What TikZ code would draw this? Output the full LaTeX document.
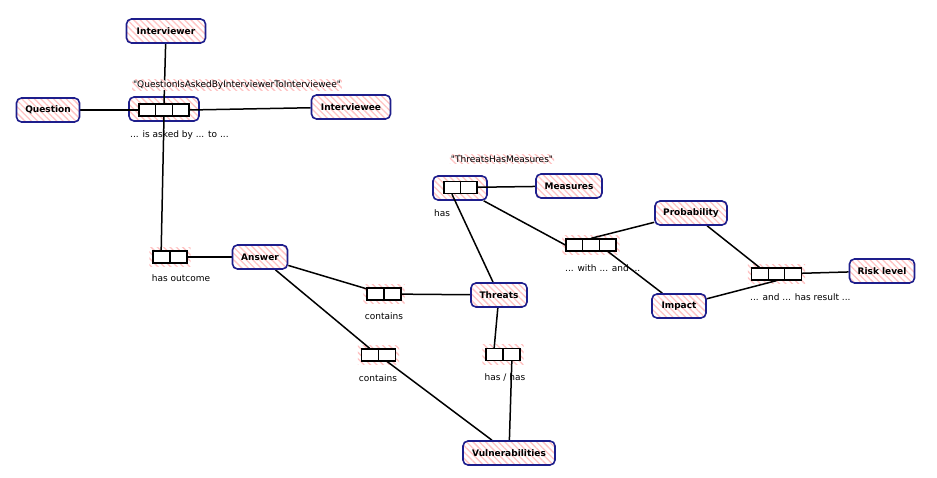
\documentclass[tikz,border=0pt]{standalone}
\usepackage{fontspec}
\setmainfont{DejaVu Sans}[Ligatures=TeXOff]
\usetikzlibrary{patterns.meta,calc,fit}
\definecolor{navyb}{RGB}{30,30,140}
\definecolor{hatchc}{RGB}{255,195,195}
\pgfdeclarelayer{bg}
\pgfdeclarelayer{edges}
\pgfsetlayers{bg,edges,main}
\tikzset{
  hatch/.style={preaction={fill=white}, pattern={Lines[angle=-45,distance=4.5pt,line width=1.3pt]}, pattern color=hatchc},
  ent/.style={hatch, draw=navyb, line width=1.6pt, rounded corners=5pt, font=\fontsize{9}{10}\selectfont\bfseries, minimum height=24pt, inner sep=2pt},
  relbox/.style={hatch, draw=navyb, line width=1.6pt, rounded corners=5pt, minimum height=24pt, inner sep=0pt},
  celltwo/.style={draw, line width=1.3pt, fill=white, minimum width=34pt, minimum height=12pt, inner sep=0pt,
    path picture={\draw[line width=1.3pt] (path picture bounding box.north)--(path picture bounding box.south);}},
  cellthree/.style={draw, line width=1.3pt, fill=white, minimum width=50pt, minimum height=12pt, inner sep=0pt,
    path picture={\draw[line width=1.3pt]
      ($(path picture bounding box.north west)!1/3!(path picture bounding box.north east)$) --
      ($(path picture bounding box.south west)!1/3!(path picture bounding box.south east)$)
      ($(path picture bounding box.north west)!2/3!(path picture bounding box.north east)$) --
      ($(path picture bounding box.south west)!2/3!(path picture bounding box.south east)$);}},
  cellbg/.style={hatch, draw=none, inner sep=3pt},
  lbl/.style={font=\fontsize{9}{10}\selectfont, inner sep=1pt},
  conn/.style={line width=1.5pt},
}
\begin{document}
\begin{tikzpicture}[x=1pt,y=-1pt]
\useasboundingbox (0,0) rectangle (937,478);
% entities
\node[ent, minimum width=79pt] (iv) at (166,31) {Interviewer};
\node[ent, minimum width=63pt] (q) at (48,110) {Question};
\node[ent, minimum width=79pt] (ie) at (351,107) {Interviewee};
\node[ent, minimum width=55pt] (ans) at (260,257) {Answer};
\node[ent, minimum width=56pt] (th) at (499,295) {Threats};
\node[ent, minimum width=66pt] (ms) at (569,186) {Measures};
\node[ent, minimum width=72pt] (pr) at (691,213) {Probability};
\node[ent, minimum width=54pt] (im) at (679,306) {Impact};
\node[ent, minimum width=65pt] (rl) at (882,271) {Risk level};
\node[ent, minimum width=92pt] (vul) at (509,453) {Vulnerabilities};
% relation cells
\node[cellthree] (r1) at (164,110) {};
\node[celltwo] (ho) at (170,257) {};
\node[celltwo] (c1) at (384,294) {};
\node[celltwo] (c2) at (378.5,355) {};
\node[celltwo] (hh) at (503,354.5) {};
\node[celltwo, minimum width=33pt] (tm) at (460.5,187.5) {};
\node[cellthree] (wa) at (591,245) {};
\node[cellthree] (ar) at (776.5,274) {};
% backgrounds of relations
\begin{pgfonlayer}{bg}
\node[relbox, minimum width=70pt] (r1o) at (164,109) {};
\node[relbox, minimum width=54pt] (tmo) at (460,188) {};
\node[cellbg, fit=(ho)] (hob) {};
\node[cellbg, fit=(c1)] (c1b) {};
\node[cellbg, fit=(c2)] (c2b) {};
\node[cellbg, fit=(hh)] (hhb) {};
\node[cellbg, fit=(wa)] (wab) {};
\node[cellbg, fit=(ar)] (arb) {};
\end{pgfonlayer}
% labels
\node[lbl, hatch] (l1) at (237,85) {"QuestionIsAskedByInterviewerToInterviewee"};
\node[lbl, anchor=west] (l2) at (129,135) {... is asked by ... to ...};
\node[lbl] (l3) at (181,278) {has outcome};
\node[lbl] (l4) at (384,316) {contains};
\node[lbl] (l5) at (378,378) {contains};
\node[lbl, hatch] (l6) at (502,159) {"ThreatsHasMeasures"};
\node[lbl] (l7) at (442,213) {has};
\node[lbl] (l8) at (505,377) {has / has};
\node[lbl, anchor=west] (l9) at (564,268) {... with ... and ...};
\node[lbl, anchor=west] (l10) at (749,297) {... and ... has result ...};
% connectors
\begin{pgfonlayer}{edges}
\draw[conn] (iv) -- (r1.north);
\draw[conn] (q) -- (r1.west);
\draw[conn] (r1.east) -- (ie);
\draw[conn] (r1.south) -- ($(ho.north west)!0.25!(ho.north east)$);
\draw[conn] (ho) -- (ans);
\draw[conn] (ans) -- (c1);
\draw[conn] (c1) -- (th);
\draw[conn] (ans) -- ($(c2.north west)!0.25!(c2.north east)$);
\draw[conn] ($(c2.south west)!0.75!(c2.south east)$) -- (vul);
\draw[conn] (th) -- ($(hh.north west)!0.25!(hh.north east)$);
\draw[conn] ($(hh.south west)!0.75!(hh.south east)$) -- (vul);
\draw[conn] (tm) -- (ms);
\draw[conn] ($(tm.south west)!0.25!(tm.south east)$) -- (th);
\draw[conn] (tmo) -- (wa.west);
\draw[conn] (wa.north) -- (pr);
\draw[conn] ($(wa.south west)!5/6!(wa.south east)$) -- (im);
\draw[conn] (pr) -- ($(ar.north west)!1/6!(ar.north east)$);
\draw[conn] (im) -- (ar.south);
\draw[conn] (ar) -- (rl);
\end{pgfonlayer}
\end{tikzpicture}
\end{document}
